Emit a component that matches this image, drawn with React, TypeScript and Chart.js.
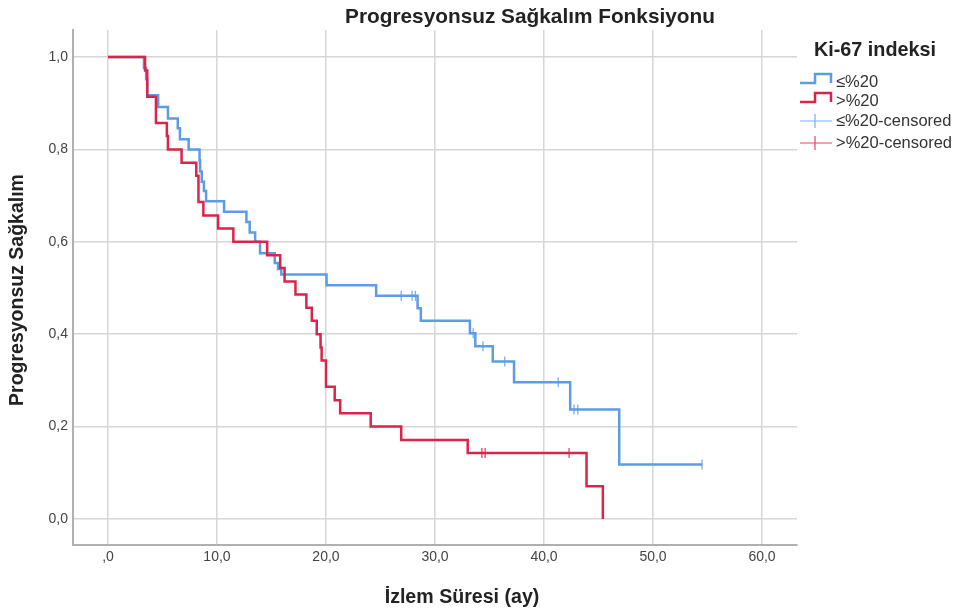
import React, { useEffect, useRef } from "react";
import { Chart, registerables } from "chart.js";
Chart.register(...registerables);

// ---- data ----
const blueTimes = [0, 3.3, 3.5, 3.6, 4.6, 5.5, 6.4, 6.6, 7.4, 8.4, 8.45, 8.6, 8.8, 9.0, 10.65, 12.7, 13.0, 13.5, 13.95, 15.3, 15.6, 15.9, 20.05, 24.6, 28.4, 28.7, 33.2, 33.7, 35.3, 37.25, 42.4, 46.9, 54.5];
const blueSurv = [1.0, 0.976, 0.952, 0.917, 0.892, 0.867, 0.846, 0.822, 0.8, 0.776, 0.752, 0.73, 0.71, 0.688, 0.665, 0.643, 0.62, 0.6, 0.575, 0.554, 0.541, 0.529, 0.506, 0.483, 0.456, 0.429, 0.402, 0.374, 0.341, 0.296, 0.237, 0.118, 0.118];
const blueCensorTimes = [26.9, 27.9, 28.2, 33.5, 34.4, 36.4, 41.3, 42.75, 43.1, 54.5];
const blueCensorSurv = [0.483, 0.483, 0.483, 0.402, 0.374, 0.341, 0.296, 0.237, 0.237, 0.118];

const redTimes = [0, 3.4, 3.6, 4.4, 5.4, 5.5, 6.75, 8.1, 8.3, 8.75, 10.1, 11.5, 14.6, 15.8, 16.2, 17.2, 18.2, 18.7, 19.15, 19.5, 19.6, 20.0, 20.8, 21.3, 24.1, 26.9, 33.0, 43.9, 45.4];
const redSurv = [1.0, 0.971, 0.914, 0.857, 0.829, 0.8, 0.771, 0.743, 0.686, 0.657, 0.629, 0.6, 0.571, 0.543, 0.514, 0.486, 0.457, 0.429, 0.4, 0.371, 0.343, 0.286, 0.257, 0.229, 0.2, 0.171, 0.143, 0.071, 0.0];
const redCensorTimes = [34.3, 34.6, 42.3];
const redCensorSurv = [0.143, 0.143, 0.143];

const xTickValues = [0, 10, 20, 30, 40, 50, 60];
const xTickLabels = [",0", "10,0", "20,0", "30,0", "40,0", "50,0", "60,0"];
const yTickValues = [0, 0.2, 0.4, 0.6, 0.8, 1.0];
const yTickLabels = ["0,0", "0,2", "0,4", "0,6", "0,8", "1,0"];

const seriesNames = ["≤%20", ">%20", "≤%20-censored", ">%20-censored"];
const chartTitle = "Progresyonsuz Sağkalım Fonksiyonu";
const xTitle = "İzlem Süresi (ay)";
const yTitle = "Progresyonsuz Sağkalım";
const legendTitle = "Ki-67 indeksi";

const BLUE = "rgb(92,156,230)";
const BLUE_C = "rgb(120,175,238)";
const RED = "rgb(220,36,74)";
const RED_C = "rgb(228,70,100)";
const FONT = '"Liberation Sans", Arial, sans-serif';

const zip = (xs: number[], ys: number[]) => xs.map((x, i) => ({ x, y: ys[i] }));

const textPlugin = {
  id: "texts",
  afterDraw(chart: any) {
    const ctx = chart.ctx as CanvasRenderingContext2D;
    ctx.save();
    ctx.fillStyle = "#222";
    ctx.textBaseline = "middle";
    // title
    ctx.font = `bold 20.8px ${FONT}`;
    ctx.textAlign = "center";
    ctx.fillText(chartTitle, 530, 17);
    // x title
    ctx.font = `bold 19.6px ${FONT}`;
    ctx.fillText(xTitle, 462, 598);
    // y title
    ctx.font = `bold 19.5px ${FONT}`;
    ctx.save();
    ctx.translate(18, 290);
    ctx.rotate(-Math.PI / 2);
    ctx.fillText(yTitle, 0, 0);
    ctx.restore();
    // legend title
    ctx.textAlign = "left";
    ctx.font = `bold 19.8px ${FONT}`;
    ctx.fillText(legendTitle, 814, 51);
    // legend items
    ctx.font = `16.5px ${FONT}`;
    ctx.fillStyle = "#333";
    const rows = [82, 101, 121, 143];
    const cols = [BLUE, RED, BLUE_C, RED_C];
    rows.forEach((ry, i) => {
      ctx.strokeStyle = cols[i];
      ctx.lineJoin = "miter";
      ctx.lineCap = "butt";
      ctx.beginPath();
      if (i < 2) {
        ctx.lineWidth = 2.5;
        ctx.moveTo(800, ry + 1);
        ctx.lineTo(815, ry + 1);
        ctx.lineTo(815, ry - 8);
        ctx.lineTo(831, ry - 8);
        ctx.lineTo(831, ry + 1);
      } else {
        ctx.lineWidth = 1.2;
        ctx.moveTo(800, ry);
        ctx.lineTo(832, ry);
        ctx.moveTo(815, ry - 7);
        ctx.lineTo(815, ry + 7);
      }
      ctx.stroke();
      ctx.fillText(seriesNames[i], 836, ry);
    });
    ctx.restore();
  },
};

export default function App() {
  const ref = useRef<HTMLCanvasElement | null>(null);
  useEffect(() => {
    if (!ref.current) return;
    const gridColor = "#d6d6d6";
    const tickFont = { family: FONT, size: 14 };
    const chart = new Chart(ref.current, {
      type: "line",
      data: {
        datasets: [
          {
            label: seriesNames[1],
            data: zip(redTimes, redSurv),
            borderColor: RED,
            borderWidth: 2.5,
            stepped: "before",
            pointRadius: 0,
            fill: false,
            borderJoinStyle: "miter",
          },
          {
            label: seriesNames[3],
            data: zip(redCensorTimes, redCensorSurv),
            showLine: false,
            pointStyle: "line",
            rotation: 90,
            pointRadius: 5,
            pointBorderWidth: 1.3,
            pointBorderColor: RED_C,
            borderColor: RED_C,
          },
          {
            label: seriesNames[0],
            data: zip(blueTimes, blueSurv),
            borderColor: BLUE,
            borderWidth: 2.5,
            stepped: "before",
            pointRadius: 0,
            fill: false,
            borderJoinStyle: "miter",
          },
          {
            label: seriesNames[2],
            data: zip(blueCensorTimes, blueCensorSurv),
            showLine: false,
            pointStyle: "line",
            rotation: 90,
            pointRadius: 5,
            pointBorderWidth: 1.3,
            pointBorderColor: BLUE_C,
            borderColor: BLUE_C,
          },
        ] as any,
      },
      options: {
        animation: false,
        responsive: false,
        maintainAspectRatio: false,
        layout: { padding: { left: 0, top: 30, right: 159, bottom: 0 } },
        plugins: {
          legend: { display: false },
          title: { display: false },
          tooltip: { enabled: false },
        },
        scales: {
          x: {
            type: "linear",
            min: -3.21,
            max: 63.21,
            afterFit: (s: any) => {
              s.height = 66;
            },
            afterBuildTicks: (s: any) => {
              s.ticks = xTickValues.map((v) => ({ value: v }));
            },
            ticks: {
              callback: (v: any) => xTickLabels[xTickValues.indexOf(Number(v))] ?? "",
              font: tickFont,
              color: "#444",
              padding: 4,
              maxRotation: 0,
              autoSkip: false,
            },
            grid: { color: gridColor, lineWidth: 1.5, drawTicks: false },
            border: { color: "#b0b0b0", width: 2 },
          },
          y: {
            type: "linear",
            min: -0.0563,
            max: 1.0584,
            afterFit: (s: any) => {
              s.width = 73;
            },
            afterBuildTicks: (s: any) => {
              s.ticks = yTickValues.map((v) => ({ value: v }));
            },
            ticks: {
              callback: (v: any) => {
                const i = yTickValues.findIndex((t) => Math.abs(t - Number(v)) < 1e-6);
                return i >= 0 ? yTickLabels[i] : "";
              },
              font: tickFont,
              color: "#444",
              padding: 5,
              autoSkip: false,
            },
            grid: { color: gridColor, lineWidth: 1.5, drawTicks: false },
            border: { color: "#b0b0b0", width: 2 },
          },
        },
      } as any,
      plugins: [textPlugin],
    });
    return () => chart.destroy();
  }, []);
  return (
    <div style={{ position: "absolute", left: 0, top: 0, width: 956, height: 611, background: "#fff" }}>
      <canvas ref={ref} width={956} height={611} style={{ width: 956, height: 611, display: "block" }} />
    </div>
  );
}
